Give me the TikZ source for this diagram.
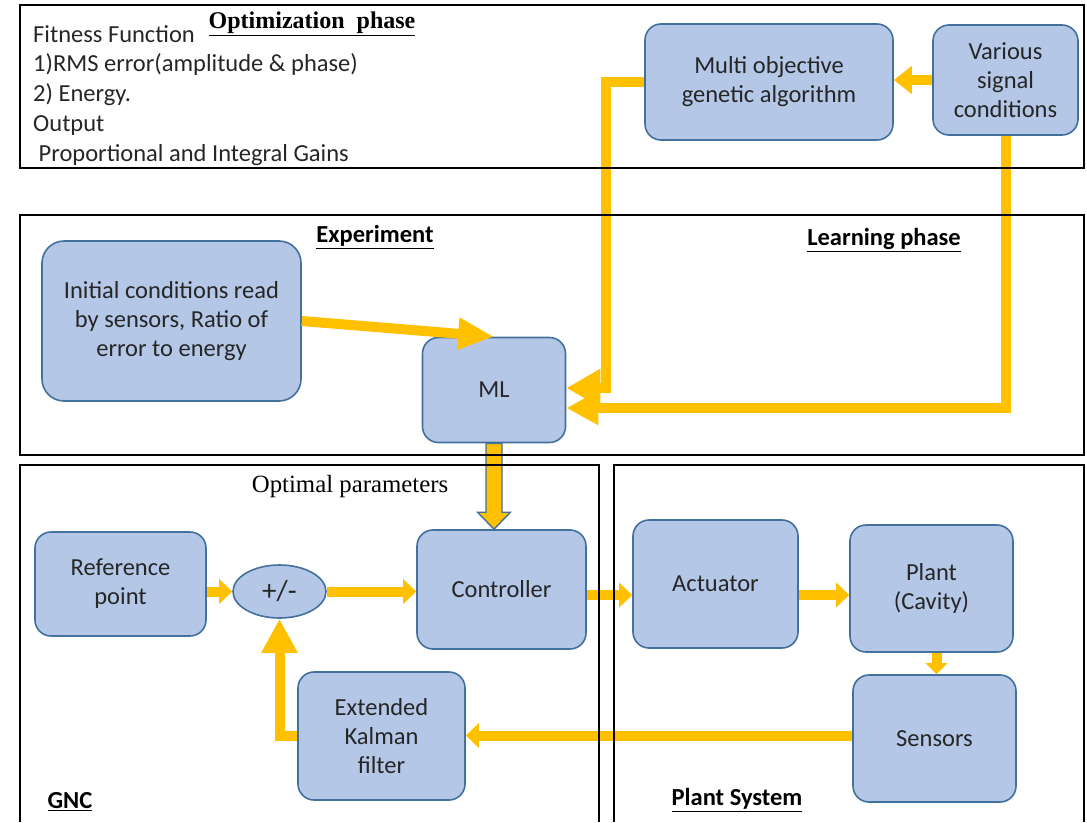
\documentclass[tikz,border=0pt]{standalone}
\usepackage{fontspec}
\setmainfont{Carlito}
\newfontfamily\timesrm{Liberation Serif}
\usetikzlibrary{positioning, arrows.meta, shapes.geometric, calc}

\definecolor{boxfill}{HTML}{B4C7E7}
\definecolor{boxline}{HTML}{41719C}
\definecolor{flowyel}{HTML}{FFC000}
\definecolor{txtgray}{HTML}{262626}

\tikzset{
	blk/.style={draw=boxline, fill=boxfill, line width=1.6pt, rounded corners=16pt,
		align=center, text=txtgray, font=\fontsize{24.5}{29}\selectfont, inner sep=2pt},
	flow/.style={draw=flowyel, line width=10pt, -{Triangle[length=13pt,width=24pt]}},
	bigflow/.style={draw=flowyel, line width=10pt, -{Triangle[length=34pt,width=36pt]}},
	frame/.style={draw=black, line width=1.8pt},
	hdr/.style={font=\fontsize{24.5}{28}\selectfont\bfseries, text=black, inner sep=1pt},
}

\begin{document}
\begin{tikzpicture}[x=1pt, y=-1pt]
	\useasboundingbox (0,0) rectangle (1087,822);
	
	% blocks
	\node[blk, minimum width=248pt, minimum height=116pt] (moga) at (769,82) {Multi objective\\genetic algorithm};
	\node[blk, minimum width=145pt, minimum height=110pt] (signal) at (1005.5,80) {Various\\signal\\conditions};
	\node[blk, minimum width=259pt, minimum height=160pt, rounded corners=22pt] (init) at (171.5,321) {Initial conditions read\\by sensors, Ratio of\\error to energy};
	\node[blk, minimum width=143pt, minimum height=105pt] (ml) at (494,390) {ML};
	\node[blk, minimum width=171pt, minimum height=104pt] (ref) at (120.5,584) {Reference\\point};
	\node[blk, ellipse, minimum width=93pt, minimum height=53pt, inner sep=0pt, font=\fontsize{29}{32}\selectfont] (sum) at (279.5,591.5) {+/-};
	\node[blk, minimum width=169pt, minimum height=119pt] (ctrl) at (501.5,589.5) {Controller};
	\node[blk, minimum width=165pt, minimum height=128pt] (act) at (715.5,584) {Actuator};
	\node[blk, minimum width=163pt, minimum height=127pt] (plant) at (931.5,588.5) {Plant\\(Cavity)};
	\node[blk, minimum width=163pt, minimum height=127pt] (sens) at (934.5,738.5) {Sensors};
	\node[blk, minimum width=167pt, minimum height=128pt] (ekf) at (381.5,736) {Extended\\Kalman\\filter};
	
	% texts
	\node[anchor=north west, align=left, inner sep=0pt, text=txtgray, font=\fontsize{24.5}{29.8}\selectfont] (fitness) at (33,25)
	{Fitness Function\\1)RMS error(amplitude \& phase)\\2) Energy.\\Output\\\ Proportional and Integral Gains};
	\node[hdr, font=\fontsize{24}{27}\selectfont\timesrm\bfseries] (optim) at (312,24) {\underline{Optimization\ \ phase}};
	\node[hdr] (expt) at (375,237) {\underline{Experiment}};
	\node[hdr] (learn) at (884,240) {\underline{Learning phase}};
	\node[text=black, font=\fontsize{24.8}{28}\selectfont\timesrm, inner sep=1pt] (optpar) at (350,487) {Optimal parameters};
	\node[hdr] (gnc) at (70,802) {\underline{GNC}};
	\node[hdr] (plsys) at (737,800) {\underline{Plant System}};
	
	% connectors
	\draw[flow, -{Triangle[length=18pt,width=27pt]}] (signal.west) -- (moga.east |- signal.west);
	\draw[bigflow] (moga.west) -- ++(-38,0) |- ([yshift=2pt]ml.east);
	\draw[bigflow, -{Triangle[length=32pt,width=32pt]}] (signal.south) |- ([yshift=-18pt]ml.east);
	\draw[bigflow, -{Triangle[length=36pt,width=30pt]}] (init.east) -- (ml.north);
	
	\coordinate (mlfoot) at (ml.south |- ctrl.north);
	\draw[boxline, fill=flowyel, line width=1.4pt] ([xshift=-8pt]ml.south) -- ([xshift=-8pt,yshift=17pt]mlfoot)
	-- ([xshift=-16.5pt,yshift=17pt]mlfoot) -- (mlfoot) -- ([xshift=16.5pt,yshift=17pt]mlfoot)
	-- ([xshift=8pt,yshift=17pt]mlfoot) -- ([xshift=8pt]ml.south) -- cycle;
	
	\draw[flow] (ref.east |- sum.west) -- (sum.west);
	\draw[flow] (sum.east) -- (ctrl.west |- sum.east);
	\coordinate (c2a) at ([yshift=-5.5pt]ctrl.east);
	\draw[flow] (c2a) -- (c2a -| act.west);
	\coordinate (a2p) at ([yshift=-11pt]act.east);
	\draw[flow] (a2p) -- (a2p -| plant.west);
	\draw[flow, -{Triangle[length=11pt,width=21pt]}] ([xshift=5pt]plant.south) -- ([xshift=5pt]plant.south |- sens.north);
	\draw[flow] ([yshift=3pt]sens.west) -- ([yshift=3pt]ekf.east |- sens.west);
	\draw[bigflow, -{Triangle[length=34pt,width=34pt]}] (ekf.west) -| (sum.south);
	
	% frames
	\draw[frame] (20,5) rectangle (1084,168);
	\draw[frame] (20,215) rectangle (1084,455);
	\draw[frame] (20,822) |- (599,465) -- (599,822);
	\draw[frame] (614,822) |- (1084,465) -- (1084,822);
\end{tikzpicture}
\end{document}
